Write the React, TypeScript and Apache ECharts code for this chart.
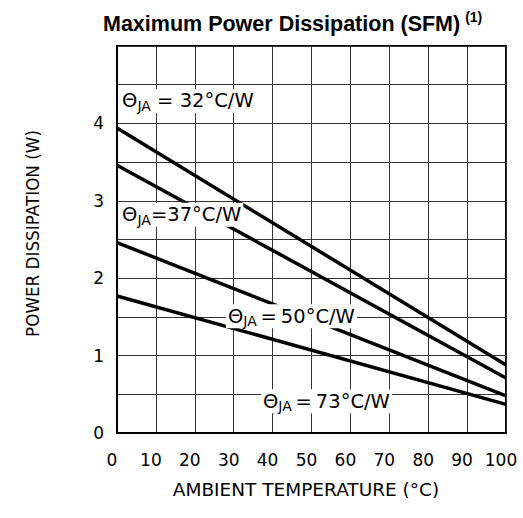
import React, { useEffect, useRef } from "react";
import * as echarts from "echarts";

const temps = [0, 100];
const p32 = [3.94, 0.88];
const p37 = [3.46, 0.71];
const p50 = [2.46, 0.48];
const p73 = [1.77, 0.37];
const yTickLabels = ["0", "1", "2", "3", "4"];
const curveNames = ["32", "37", "50", "73"];
// label anchors in data units [temperature, watts]
const labelAnchors = [
  [0.8, 4.29],
  [0.8, 2.82],
  [28.0, 1.51],
  [37.0, 0.41],
];
const labelTexts = [
  "{t|Θ}{s|JA}{t| = 32°C/W}",
  "{t|Θ}{s|JA}{t|=37°C/W}",
  "{t|Θ}{s|JA}{t|\u2009=\u200950°C/W}",
  "{t|Θ}{s|JA}{t|\u2009=\u200973°C/W}",
];

const FONT = "'DejaVu Sans', sans-serif";
const TITLE_FONT = "'Liberation Sans', Arial, sans-serif";

export default function App() {
  const ref = useRef<HTMLDivElement>(null);
  useEffect(() => {
    if (!ref.current) return;
    const chart = echarts.init(ref.current, undefined, { renderer: "svg" });
    const series = [p32, p37, p50, p73];
    const lineSeries = series.map((vals, i) => ({
      type: "line",
      name: curveNames[i],
      data: temps.map((t, j) => [t, vals[j]]),
      symbol: "none",
      lineStyle: { color: "#000", width: 3.5 },
      z: 3,
    }));
    const labelSeries = labelAnchors.map((pt, i) => ({
      type: "scatter",
      data: [pt],
      symbolSize: 0,
      z: 5,
      itemStyle: { opacity: 1 },
      label: {
        show: true,
        position: "right",
        distance: 0,
        opacity: 1,
        formatter: labelTexts[i],
        backgroundColor: "#fff",
        padding: [0, 2, 0, 2],
        rich: {
          t: { fontSize: 19.5, fontFamily: FONT, color: "#000", lineHeight: 24 },
          s: { fontSize: 14, fontFamily: FONT, color: "#000", lineHeight: 24, verticalAlign: "bottom" },
        },
      },
    }));
    chart.setOption({
      animation: false,
      title: {
        text: "{a|Maximum Power Dissipation (SFM)} {b|(1)}",
        left: 98,
        top: 5,
        textStyle: {
          rich: {
            a: { fontSize: 21.5, fontWeight: "bold", fontFamily: TITLE_FONT, color: "#000", lineHeight: 28 },
            b: { fontSize: 14, fontWeight: "bold", fontFamily: TITLE_FONT, color: "#000", lineHeight: 28, verticalAlign: "top" },
          },
        },
      },
      grid: {
        left: 117,
        right: 17,
        top: 46,
        bottom: 85,
        show: true,
        borderColor: "#000",
        borderWidth: 2,
        backgroundColor: "#fff",
      },
      xAxis: {
        type: "value",
        min: 0,
        max: 100,
        interval: 10,
        name: "AMBIENT TEMPERATURE (°C)",
        nameLocation: "middle",
        nameGap: 47,
        nameTextStyle: { fontSize: 18.5, fontFamily: FONT, color: "#000", padding: [0, 11, 0, 0] },
        axisLine: { show: true, lineStyle: { color: "#000", width: 2 } },
        axisTick: { show: false },
        axisLabel: { fontSize: 17, fontFamily: FONT, color: "#000", margin: 18, padding: [0, 10, 0, 0] },
        splitLine: { show: true, lineStyle: { color: "#333", width: 1 } },
      },
      yAxis: {
        type: "value",
        min: 0,
        max: 5,
        interval: 0.5,
        name: "POWER DISSIPATION (W)",
        nameLocation: "middle",
        nameGap: 76,
        nameTextStyle: { fontSize: 16.8, fontFamily: FONT, color: "#000", padding: [0, 0, 0, 12] },
        axisLine: { show: true, lineStyle: { color: "#000", width: 2 } },
        axisTick: { show: false },
        axisLabel: {
          fontSize: 17,
          fontFamily: FONT,
          color: "#000",
          margin: 13,
          formatter: (v: number) => {
            const s = String(v);
            return yTickLabels.includes(s) ? s : "";
          },
        },
        splitLine: { show: true, lineStyle: { color: "#333", width: 1 } },
      },
      series: [...lineSeries, ...labelSeries],
    });
    return () => chart.dispose();
  }, []);
  return <div ref={ref} style={{ position: "absolute", left: 0, top: 0, width: 523, height: 518 }} />;
}
